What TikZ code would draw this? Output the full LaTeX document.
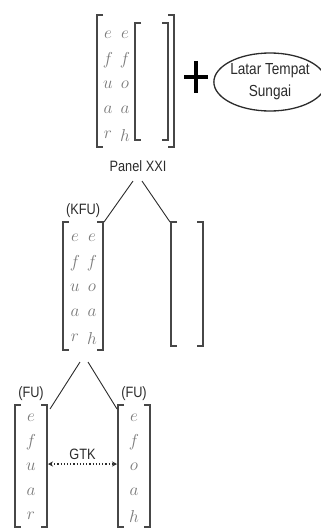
\documentclass[tikz,border=0pt]{standalone}
\usepackage{fontspec}
\setsansfont[FakeStretch=0.85]{Liberation Sans}
\usepackage{tikz}
\usetikzlibrary{arrows.meta,positioning,shapes.geometric}
\definecolor{pnInk}{HTML}{2B2B2B}
\definecolor{pnBracket}{HTML}{474747}
\definecolor{pnLetter}{HTML}{7A7A7A}
\tikzset{
  pn diagram/.style={font=\sffamily\fontsize{15}{22}\selectfont, text=pnInk},
  pn matrix/.style={inner sep=0pt, outer sep=0pt},
  pn bracket/.style={draw=pnBracket, line width=1.3pt},
  pn letter/.style={text=pnLetter, inner sep=0pt, font=\fontsize{17}{20}\selectfont},
  pn branch/.style={draw=pnInk, line width=0.9pt},
  pn link/.style={{Stealth[length=5pt,width=5pt]}-{Stealth[length=5pt,width=5pt]},
    draw=pnInk, dotted, line width=1.2pt},
  pn setting/.style={draw=pnInk, line width=1.3pt, ellipse, align=center,
    minimum width=100pt, minimum height=58pt, inner sep=0pt,
    font=\sffamily\fontsize{16}{22}\selectfont}
}

\begin{document}
\begin{tikzpicture}[pn diagram,x=1pt,y=-1pt]
\useasboundingbox (0,0) rectangle (321,530);
% matrices
\node[pn matrix, minimum width=77pt, minimum height=132pt] (top) at (135.5,81) {};
\node[pn matrix, minimum width=33pt, minimum height=117pt] (topin) at (151.5,81.5) {};
\node[pn matrix, minimum width=40pt, minimum height=128pt] (kfu) at (83,286) {};
\node[pn matrix, minimum width=32pt, minimum height=124pt] (side) at (187,284) {};
\node[pn matrix, minimum width=32pt, minimum height=122pt] (fuleft) at (31,466) {};
\node[pn matrix, minimum width=32pt, minimum height=122pt] (furight) at (134,466) {};
\foreach \m in {top,topin,kfu,side,fuleft,furight}{
  \draw[pn bracket] ([xshift=6pt]\m.north west) -| (\m.south west) -- ++(6pt,0);
  \draw[pn bracket] ([xshift=-6pt]\m.north east) -| (\m.south east) -- ++(-6pt,0);
}
% letters
\foreach \row/\a/\b in {0/e/e,1/f/f,2/u/o,3/a/a,4/r/h}{
  \node[pn letter] (top-a\row) at (108,{35+25*\row}) {$\a$};
  \node[pn letter] (top-b\row) at (125,{35+25*\row}) {$\b$};
  \node[pn letter] (kfu-a\row) at (75,{238+25*\row}) {$\a$};
  \node[pn letter] (kfu-b\row) at (92,{238+25*\row}) {$\b$};
  \node[pn letter] (fuleft-\row) at (31,{418+24.5*\row}) {$\a$};
  \node[pn letter] (furight-\row) at (134,{418+24.5*\row}) {$\b$};
}
% plus and setting
\node[minimum width=23pt, minimum height=32pt, inner sep=0pt] (plus) at (196,77) {};
\draw[line width=4pt, draw=black] (plus.north) -- (plus.south) (plus.west) -- (plus.east);
\node[pn setting] (setting) at (270,82) {Latar Tempat\\Sungai};
% labels
\node (panel) at (138,166) {Panel XXI};
\node[above=1pt of kfu] (kfulabel) {(KFU)};
\node[above=1pt of fuleft] (fuleftlabel) {(FU)};
\node[above=1pt of furight] (furightlabel) {(FU)};
% branches
\draw[pn branch] ([xshift=-5pt,yshift=-6pt]panel.south) -- ([xshift=1pt]kfu.north east);
\draw[pn branch] ([xshift=4pt,yshift=-6pt]panel.south) -- ([xshift=-1pt]side.north west);
\draw[pn branch] ([xshift=-3pt,yshift=-12pt]kfu.south) -- ([xshift=3pt,yshift=-4pt]fuleft.north east);
\draw[pn branch] ([xshift=5pt,yshift=-12pt]kfu.south) -- ([xshift=-1pt,yshift=-4pt]furight.north west);
% link
\draw[pn link] ([xshift=1pt,yshift=2pt]fuleft.east) -- node[above=0pt] (gtk) {GTK} ([xshift=-1pt,yshift=2pt]furight.west);
\end{tikzpicture}
\end{document}
